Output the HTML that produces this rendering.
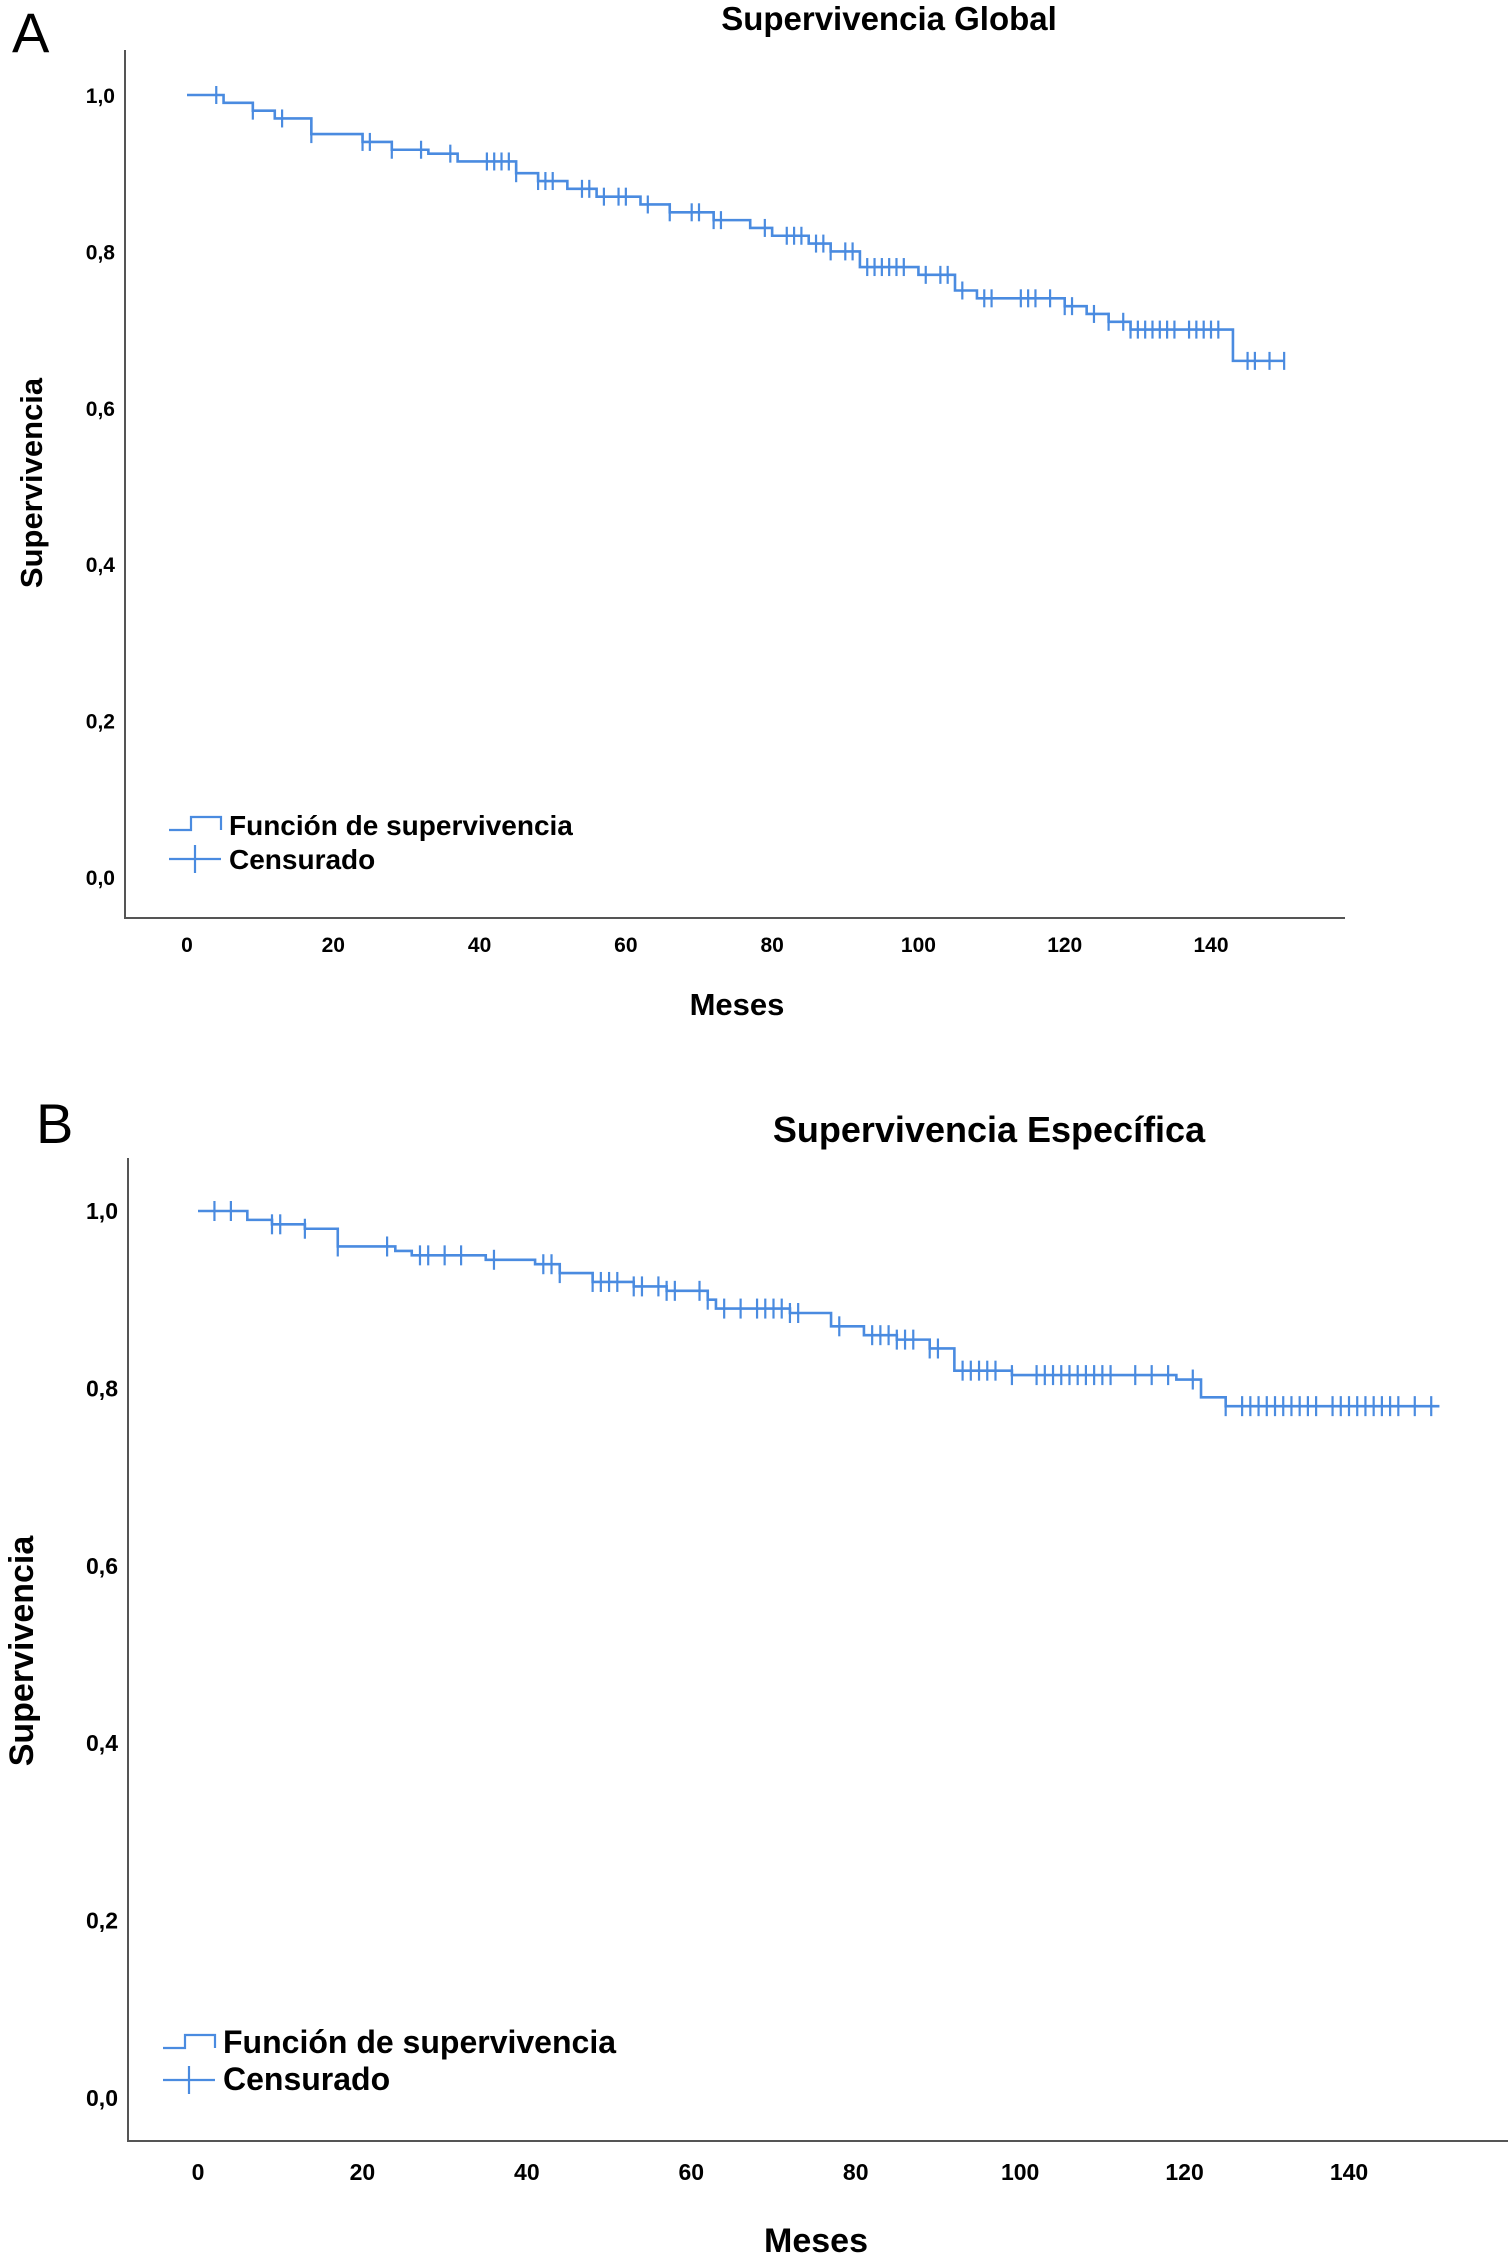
<!DOCTYPE html>
<html><head><meta charset="utf-8">
<style>
body{margin:0;background:#fff;width:1508px;height:2263px;overflow:hidden;font-family:"Liberation Sans",sans-serif}
svg text{font-family:"Liberation Sans",sans-serif}
</style></head>
<body>
<svg id="chart" width="1508" height="2263" xmlns="http://www.w3.org/2000/svg"></svg>
<script>
// Panel A data
const aStepTimes=[0,5,9,12,17,24,28,33,37,45,48,52,56,62,66,72,77,80,85,88,92,100,105,108,120,123,126,129,143];
const aStepSurv=[1.0,0.99,0.98,0.97,0.95,0.94,0.93,0.925,0.915,0.90,0.89,0.88,0.87,0.86,0.85,0.84,0.83,0.82,0.81,0.80,0.78,0.77,0.75,0.74,0.73,0.72,0.71,0.70,0.66];
const aEnd=150;
const aCensor=[4,9,13,17,24,25,28,32,36,41,42,43,44,45,48,49,50,54,55,57,59,60,63,66,69,70,72,73,79,82,83,84,86,87,88,90,91,93,94,95,96,97,98,101,103,104,106,109,110,114,115,116,118,120,121,124,126,128,129,130,131,132,133,134,135,137,138,139,140,141,145,146,148,150];
// Panel B data
const bStepTimes=[0,6,9,13,17,24,26,35,41,44,48,53,57,62,63,72,77,81,85,89,92,99,119,122,125];
const bStepSurv=[1.0,0.99,0.985,0.98,0.96,0.955,0.95,0.945,0.94,0.93,0.92,0.915,0.91,0.90,0.89,0.885,0.87,0.86,0.855,0.845,0.82,0.815,0.81,0.79,0.78];
const bEnd=151;
const bCensor=[2,4,9,10,13,17,23,27,28,30,32,36,42,43,44,48,49,50,51,53,54,56,57,58,61,62,64,66,68,69,70,71,72,73,78,82,83,84,85,86,87,89,90,93,94,95,96,97,99,102,103,104,105,106,107,108,109,110,111,114,116,118,121,125,127,128,129,130,131,132,133,134,135,136,138,139,140,141,142,143,144,145,146,148,150];
const yTicks=[0,0.2,0.4,0.6,0.8,1.0];
const yTickLabels=["0,0","0,2","0,4","0,6","0,8","1,0"];
const xTicks=[0,20,40,60,80,100,120,140];

const svg=document.getElementById('chart');
const NS='http://www.w3.org/2000/svg';
const COL='#4a8be0';
function mk(tag,attrs,parent){const e=document.createElementNS(NS,tag);for(const k in attrs)e.setAttribute(k,attrs[k]);(parent||svg).appendChild(e);return e;}
function txt(s,attrs,parent){const e=mk('text',attrs,parent);e.textContent=s;return e;}

function panel(cfg,times,surv,end,cens){
  const g=mk('g',{});
  
  
  const sx=t=>cfg.x0+(cfg.x140-cfg.x0)*t/140;
  const sy=v=>cfg.y0+(cfg.y1-cfg.y0)*v;
  const lt=txt(cfg.letter,{x:cfg.lx,y:cfg.ly,'font-size':cfg.lfs,fill:'#000'},g);
  
  
  const ti=txt(cfg.title,{x:cfg.tx,y:cfg.ty,'font-size':cfg.tfs,'font-weight':'bold','text-anchor':'middle'},g);
  
  
  const ax=mk('path',{d:`M${cfg.ax} ${cfg.top}V${cfg.bottom}H${cfg.right}`,stroke:'#555',fill:'none','stroke-width':2},g);
  
  
  yTicks.forEach((v,i)=>{const t=txt(yTickLabels[i],{x:cfg.ax-10,y:sy(v)+8,'font-size':cfg.fs,'font-weight':'bold','text-anchor':'end'},g);
    
    });
  xTicks.forEach(v=>{const t=txt(String(v),{x:sx(v),y:cfg.xly,'font-size':cfg.fs,'font-weight':'bold','text-anchor':'middle'},g);
    
    });
  const yt=txt('Supervivencia',{x:0,y:0,'font-size':cfg.atfs,'font-weight':'bold','text-anchor':'middle',transform:`translate(${cfg.ytx},${cfg.yty}) rotate(-90)`},g);
  
  
  const xt=txt('Meses',{x:cfg.xtx,y:cfg.xty,'font-size':cfg.atfs,'font-weight':'bold','text-anchor':'middle'},g);
  
  
  let d=`M${sx(times[0])} ${sy(surv[0])}`;
  for(let i=1;i<times.length;i++){d+=`H${sx(times[i])}V${sy(surv[i])}`;}
  d+=`H${sx(end)}`;
  const line=mk('path',{d,stroke:COL,fill:'none','stroke-width':2.6},g);
  
  
  const sAt=t=>{let v=surv[0];for(let i=0;i<times.length;i++)if(times[i]<=t)v=surv[i];return v;};
  cens.forEach(t=>{const y=sy(sAt(t));const p=mk('path',{d:`M${sx(t)} ${y-cfg.ch}V${y+cfg.ch}`,stroke:COL,'stroke-width':2.2},g);
    
    });
  const lg=mk('g',{},g);
  
  
  mk('path',{d:`M${cfg.lgx} ${cfg.lg1+4}H${cfg.lgx+22}V${cfg.lg1-9}H${cfg.lgx+52}V${cfg.lg1+4}`,stroke:COL,fill:'none','stroke-width':2.2},lg);
  mk('path',{d:`M${cfg.lgx} ${cfg.lg2}H${cfg.lgx+52}M${cfg.lgx+26} ${cfg.lg2-14}V${cfg.lg2+14}`,stroke:COL,fill:'none','stroke-width':2.2},lg);
  txt('Función de supervivencia',{x:cfg.lgx+60,y:cfg.lg1+9,'font-size':cfg.lfs2,'font-weight':'600'},lg);
  txt('Censurado',{x:cfg.lgx+60,y:cfg.lg2+10,'font-size':cfg.lfs2,'font-weight':'600'},lg);
}
panel({id:'a',letter:'A',lx:12,ly:52,lfs:56,title:'Supervivencia Global',tx:889,ty:30,tfs:33,
  ax:125,top:50,bottom:918,right:1345,x0:187,x140:1211,y0:877,y1:95,fs:21,xly:952,
  ytx:42,yty:483,xtx:737,xty:1015,atfs:31,ch:9,lgx:169,lg1:826,lg2:859,lfs2:28},
  aStepTimes,aStepSurv,aEnd,aCensor);
panel({id:'b',letter:'B',lx:36,ly:1143,lfs:56,title:'Supervivencia Específica',tx:989,ty:1142,tfs:36,
  ax:128,top:1158,bottom:2141,right:1508,x0:198,x140:1349,y0:2098,y1:1211,fs:23,xly:2180,
  ytx:33,yty:1651,xtx:816,xty:2252,atfs:34,ch:10,lgx:163,lg1:2044,lg2:2080,lfs2:32},
  bStepTimes,bStepSurv,bEnd,bCensor);
</script>
</body></html>
